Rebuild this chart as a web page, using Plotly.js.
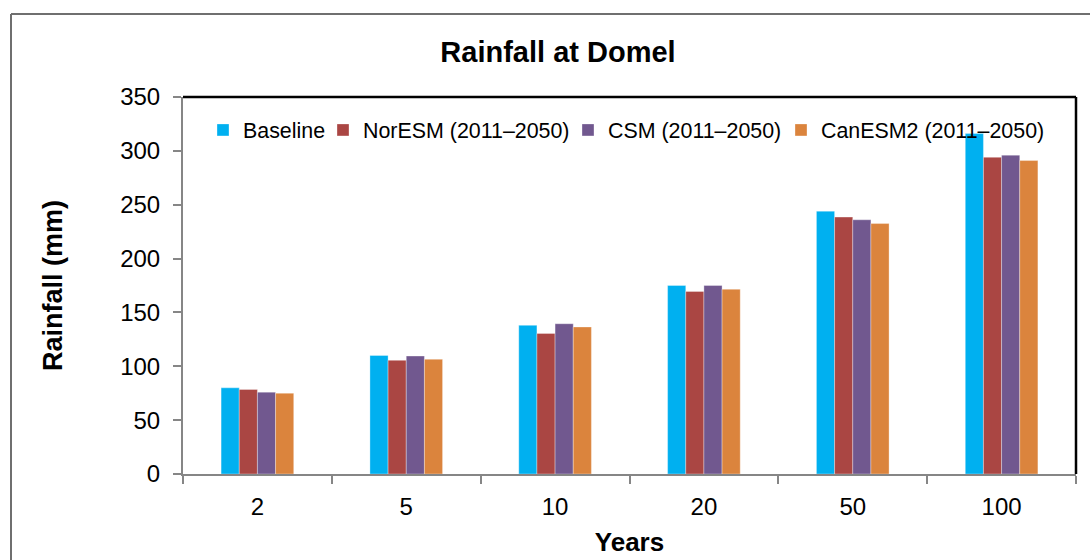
<!DOCTYPE html>
<html>
<head>
<meta charset="utf-8">
<script src="https://cdn.plot.ly/plotly-3.0.1.min.js"></script>
<style>
  html, body { margin: 0; padding: 0; background: #ffffff; }
  #chart { width: 1090px; height: 560px; }
</style>
</head>
<body>
<div id="chart"></div>
<script>
// Return periods (years) on the category axis
const years = ['2', '5', '10', '20', '50', '100'];

// Rainfall depth (mm) for each return period
const baseline = [80, 110, 138, 175, 244, 316];
const norESM   = [78.5, 105.5, 130.5, 169.5, 238.5, 294];
const csm      = [76, 109.5, 139.5, 175, 236, 296];
const canESM2  = [75, 106.5, 136.5, 171.5, 232.5, 291];

const seriesNames = ['Baseline', 'NorESM (2011\u20132050)', 'CSM (2011\u20132050)', 'CanESM2 (2011\u20132050)'];
const seriesValues = [baseline, norESM, csm, canESM2];
const seriesColors = ['#00B0F0', '#AA4643', '#71588F', '#DB843D'];
const legendIds = ['legend', 'legend2', 'legend3', 'legend4'];

const FONT = 'Liberation Sans, Arial, sans-serif';

// Plot-area geometry (pixels)
const W = 1090, H = 560;
const M = { l: 183, r: 14, t: 97, b: 86 };
const plotW = W - M.l - M.r;
const plotH = H - M.t - M.b;
const px2x = px => (px - M.l) / plotW;
const py2y = py => (H - M.b - py) / plotH;

const traces = seriesValues.map((vals, i) => ({
  type: 'bar',
  name: seriesNames[i],
  x: years,
  y: vals,
  legend: legendIds[i],
  showlegend: true,
  marker: { color: seriesColors[i], line: { color: 'rgba(255,255,255,0.55)', width: 0.6 } },
  hoverinfo: 'x+y+name'
}));

// Each legend entry is placed on its own so the row spacing is even
const legendTextX = [243, 363, 608, 821];
const legendCommon = {
  visible: true,
  orientation: 'h',
  yanchor: 'middle',
  xanchor: 'left',
  y: py2y(130),
  bgcolor: 'rgba(0,0,0,0)',
  borderwidth: 0,
  font: { family: FONT, size: 21.4, color: '#000000' },
  tracegroupgap: 0
};

const layout = {
  width: W,
  height: H,
  margin: M,
  showlegend: true,
  paper_bgcolor: '#ffffff',
  plot_bgcolor: '#ffffff',
  font: { family: FONT, color: '#000000' },
  title: {
    text: '<b>Rainfall at Domel</b>',
    font: { family: FONT, size: 29, color: '#000000' },
    x: 558 / W,
    xanchor: 'center',
    xref: 'container',
    y: 1 - 52 / H,
    yanchor: 'middle',
    yref: 'container'
  },
  barmode: 'group',
  bargap: 0.512,
  bargroupgap: 0,
  xaxis: {
    type: 'category',
    showline: true,
    linecolor: '#868686',
    linewidth: 2,
    ticks: 'outside',
    tickson: 'boundaries',
    ticklen: 8,
    tickwidth: 2,
    tickcolor: '#868686',
    showgrid: false,
    zeroline: false,
    tickfont: { family: FONT, size: 24, color: '#000000' },
    ticklabelstandoff: 10,
    title: {
      text: '<b>Years</b>',
      font: { family: FONT, size: 26, color: '#000000' },
      standoff: 14
    }
  },
  yaxis: {
    range: [0, 350],
    dtick: 50,
    tick0: 0,
    showline: true,
    linecolor: '#868686',
    linewidth: 2,
    ticks: 'outside',
    ticklen: 8,
    tickwidth: 2,
    tickcolor: '#868686',
    showgrid: false,
    zeroline: false,
    tickfont: { family: FONT, size: 24, color: '#000000' },
    ticklabelstandoff: 8,
    title: {
      text: '<b>Rainfall (mm)</b>',
      font: { family: FONT, size: 27, color: '#000000' },
      standoff: 50
    }
  },
  shapes: [
    // dark frame along the top and right of the plot area
    { type: 'line', xref: 'paper', yref: 'paper', x0: 0, x1: 1, y0: 1, y1: 1,
      line: { color: '#000000', width: 2.5 } },
    { type: 'line', xref: 'paper', yref: 'paper', x0: 1, x1: 1, y0: 0, y1: 1,
      line: { color: '#000000', width: 2.5 } },
    // outer chart frame
    { type: 'line', xref: 'paper', yref: 'paper', x0: px2x(11), x1: px2x(W + 5), y0: py2y(14), y1: py2y(14),
      line: { color: '#6f6f6f', width: 2 } },
    { type: 'line', xref: 'paper', yref: 'paper', x0: px2x(11), x1: px2x(11), y0: py2y(14), y1: py2y(H + 5),
      line: { color: '#6f6f6f', width: 2 } }
  ]
};

legendIds.forEach((id, i) => {
  layout[id] = Object.assign({}, legendCommon, { x: px2x(legendTextX[i] - 40) });
});

Plotly.newPlot('chart', traces, layout, { displayModeBar: false, responsive: false });
</script>
</body>
</html>
